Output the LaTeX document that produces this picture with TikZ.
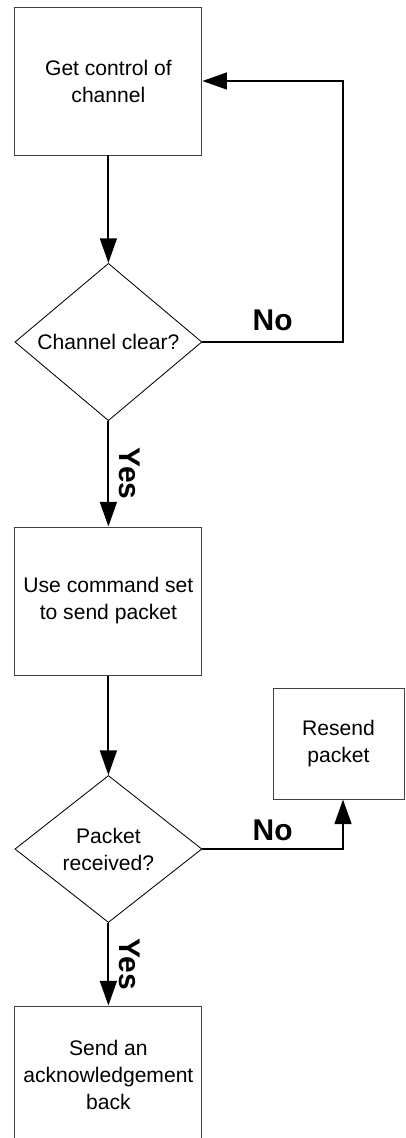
\documentclass[tikz,border=0pt]{standalone}
\usepackage{fontspec}
\setmainfont{Liberation Sans}
\usetikzlibrary{positioning, arrows.meta, shapes.geometric}

\begin{document}
\begin{tikzpicture}[
	flowbox/.style={draw=black!75, line width=0.7pt, rectangle, minimum width=4.675cm,
		minimum height=3.7cm, align=center, font=\fontsize{15}{19.2}\selectfont},
	decision/.style={draw, line width=0.6pt, diamond, minimum width=4.675cm,
		minimum height=3.675cm, inner sep=0pt, align=center, font=\fontsize{15}{19.2}\selectfont},
	flow/.style={line width=1.4pt, -{Triangle[length=17.5pt, width=12pt]}},
	answer/.style={font=\fontsize{21.3}{25}\selectfont\bfseries, inner sep=0pt}
	]
	
	%Frame
	\useasboundingbox (0,0) rectangle (10.125,-28.45);
	
	%Blocks
	\node (GetControl) at (2.71,-2.025) [flowbox]{Get control of\\channel};
	
	\node (ChannelClear) at (2.71,-8.55) [decision]{Channel clear?};
	
	\node (UseCommand) at (2.71,-15.025) [flowbox]{Use command set\\to send packet};
	
	\node (PacketReceived) at (2.71,-21.225) [decision]{Packet\\received?};
	
	\node (Resend) at (8.4625,-18.5875) [flowbox, minimum width=3.275cm,
	minimum height=2.775cm]{Resend\\packet};
	
	\node (SendAck) at (2.71,-26.875) [flowbox, minimum height=3.45cm]{Send an\\acknowledgement\\back};
	
	\coordinate (ReturnX) at (8.575,0);
	
	%Links
	\draw[flow] (GetControl) -- (ChannelClear);
	\draw[flow] (ChannelClear) -- node[midway, rotate=-90, anchor=south, answer, 
	inner sep=7pt]{Yes} (UseCommand);
	\draw[flow] (ChannelClear.east) -- node[above=7.5pt, answer]{No} 
	(ChannelClear.east -| ReturnX) |- (GetControl.east);
	\draw[flow] (UseCommand) -- (PacketReceived);
	\draw[flow] (PacketReceived) -- node[midway, rotate=-90, anchor=south, answer, 
	inner sep=7pt]{Yes} (SendAck);
	\draw[flow] (PacketReceived.east) -- node[above=5.5pt, answer]{No} 
	(PacketReceived.east -| ReturnX) -- (ReturnX |- Resend.south);
	
\end{tikzpicture}
\end{document}
